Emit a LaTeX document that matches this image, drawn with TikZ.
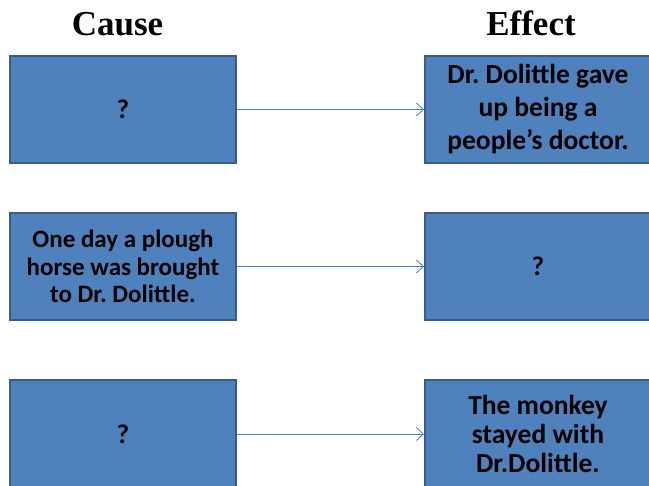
\documentclass[tikz,border=0pt]{standalone}
\usepackage{fontspec}
\setmainfont{Liberation Serif}
\newfontfamily\slidefont{Carlito}
\usetikzlibrary{arrows.meta}
\definecolor{boxblue}{HTML}{4F81BD}
\definecolor{boxedge}{HTML}{385D8A}
\definecolor{linkblue}{HTML}{4A7EBB}
\tikzstyle{heading}=[anchor=base,font=\bfseries\fontsize{35}{40}\selectfont]
\tikzstyle{slidebox}=[draw=boxedge,fill=boxblue,line width=2pt,minimum width=226pt,minimum height=107pt,inner sep=0pt,align=center,font=\slidefont\bfseries\fontsize{27}{31}\selectfont]
\tikzstyle{link}=[draw=linkblue,line width=0.8pt,-{Straight Barb[length=7pt,width=13pt,line width=0.8pt]}]
\frenchspacing

\begin{document}
\begin{tikzpicture}[x=1pt,y=-1pt]
	\useasboundingbox (0,0) rectangle (649,486);
	% column titles
	\node[heading] (cause) at (117.5,36) {Cause};
	\node[heading] (effect) at (531,36) {Effect};
	% first row
	\node[slidebox] (c1) at (123,109.5) {?};
	\node[slidebox,font=\slidefont\bfseries\fontsize{27.5}{33}\selectfont] (e1) at (538,109.5) {Dr. Dolittle gave\\up being a\\people’s doctor.};
	% second row
	\node[slidebox,font=\slidefont\bfseries\fontsize{25}{27.5}\selectfont] (c2) at (123,266.5) {One day a plough\\horse was brought\\to Dr. Dolittle.};
	\node[slidebox] (e2) at (538,266.5) {?};
	% third row
	\node[slidebox] (c3) at (123,434) {?};
	\node[slidebox,font=\slidefont\bfseries\fontsize{27.5}{29}\selectfont] (e3) at (538,434) {The monkey\\stayed with\\Dr.Dolittle.};
	\foreach \i in {1,2,3}
		\draw[link] (c\i) -- (e\i);
\end{tikzpicture}
\end{document}
